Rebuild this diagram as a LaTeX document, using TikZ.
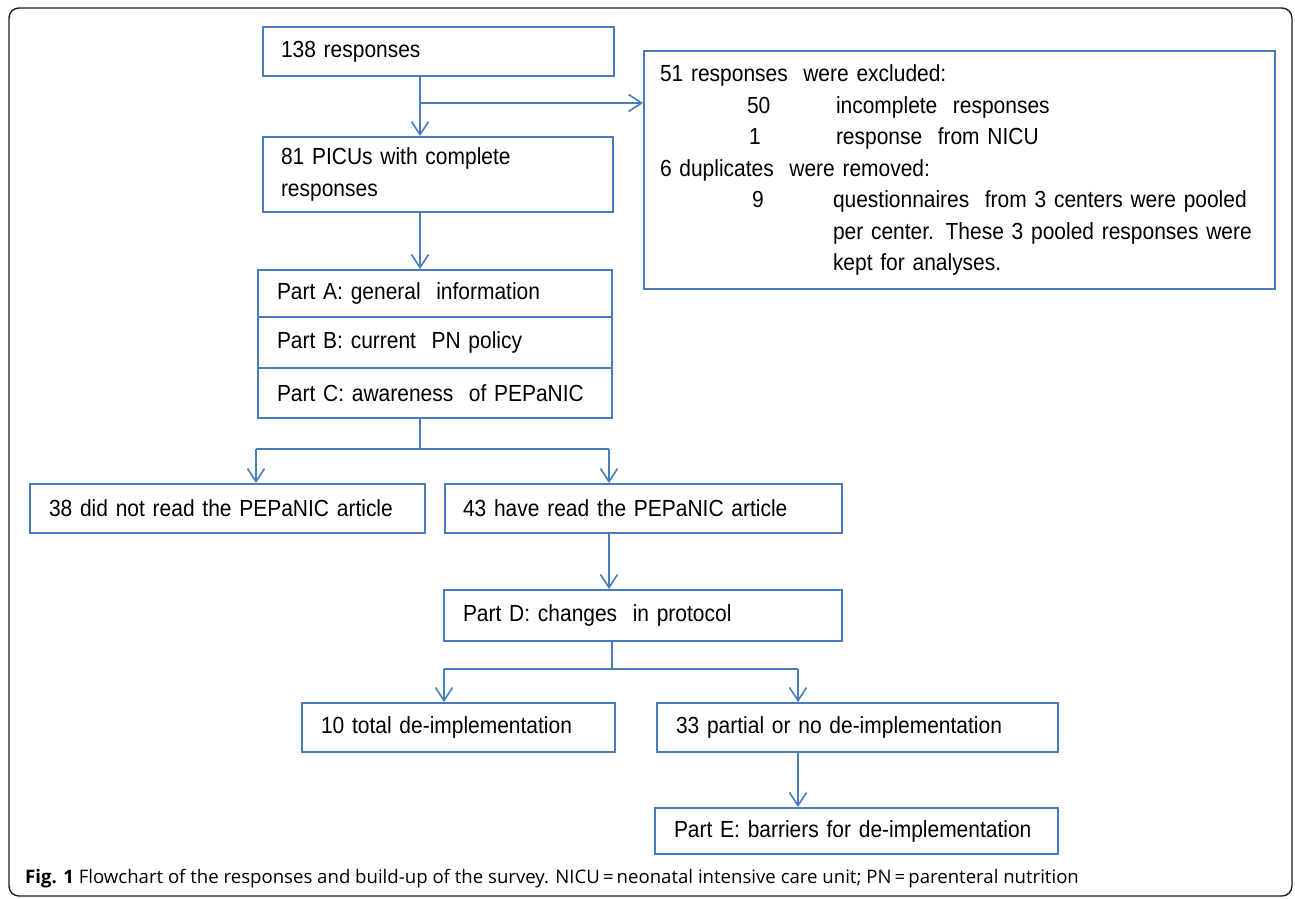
\documentclass[tikz,border=0pt]{standalone}
\usepackage{fontspec}
\setmainfont{Liberation Sans}
\newfontfamily\boxfont{Liberation Sans}[FakeStretch=0.9]
\newfontfamily\capfont{Open Sans}
\usetikzlibrary{arrows.meta}
\definecolor{boxblue}{RGB}{72,124,188}
\definecolor{frame}{RGB}{30,30,30}
\tikzset{
  bx/.style={draw=boxblue, line width=2pt, anchor=north west, inner ysep=0pt,
    align=left, font=\boxfont\fontsize{23.3}{31.5}\selectfont},
  conn/.style={draw=boxblue, line width=1.6pt},
  arr/.style={conn, -{Straight Barb[length=13pt,width=17pt]}},
}
\begin{document}
\begin{tikzpicture}[x=1pt,y=-1pt]
\useasboundingbox (0,0) rectangle (1295,898);
\draw[frame, line width=1.4pt, rounded corners=10pt] (9,8) rectangle (1292,896);

% boxes
\node[bx, inner xsep=18pt, text width=315pt, minimum height=49pt] (b138) at (262,26) {138 responses};
\node[bx, inner xsep=18pt, text width=314pt, minimum height=75pt] (b81) at (262,136) {81 PICUs with complete\\responses};
\node[bx, inner xsep=19pt, text width=316pt, minimum height=47pt] (pA) at (257,269) {Part A: general\ \ information};
\node[bx, inner xsep=19pt, text width=316pt, minimum height=51pt] (pB) at (257,316) {Part B: current\ \ PN policy};
\node[bx, inner xsep=19pt, text width=316pt, minimum height=50pt] (pC) at (257,367) {Part C: awareness\ \ of PEPaNIC};
\node[bx, inner xsep=16pt, text width=599pt, minimum height=238pt] (excl) at (643,50) {51 responses\ \ were excluded:\\
\hspace*{87pt}\makebox[89pt][l]{50}incomplete\ \ responses\\
\hspace*{89pt}\makebox[87pt][l]{1}response\ \ from NICU\\
6 duplicates\ \ were removed:\\
\hspace*{92pt}\makebox[81pt][l]{9}\makebox[406pt][s]{questionnaires\ \ from 3 centers were pooled}\\
\hspace*{173pt}\makebox[417pt][s]{per center. These 3 pooled responses were}\\
\hspace*{173pt}kept for analyses.};
\node[bx, inner xsep=19pt, text width=357pt, minimum height=49pt] (b38) at (29,483) {38 did not read the PEPaNIC article};
\node[bx, inner xsep=18pt, text width=361pt, minimum height=49pt] (b43) at (444,483) {43 have read the PEPaNIC article};
\node[bx, inner xsep=19pt, text width=360pt, minimum height=51pt] (pD) at (443,589) {Part D: changes\ \ in protocol};
\node[bx, inner xsep=19pt, text width=275pt, minimum height=49pt] (b10) at (301,702) {10 total de-implementation};
\node[bx, inner xsep=19pt, text width=363pt, minimum height=49pt] (b33) at (656,702) {33 partial or no de-implementation};
\node[bx, inner xsep=19pt, text width=365pt, minimum height=46pt] (pE) at (654,807) {Part E: barriers for de-implementation};

% connector coordinates
\coordinate (sp) at (420,0);
\coordinate (j1) at (420,103);
\coordinate (c38) at (256,449);
\coordinate (c43) at (609,449);
\coordinate (j2) at (420,449);
\coordinate (d0) at (612,669);
\coordinate (c10) at (444,669);
\coordinate (c33) at (798,669);

\draw[arr] (b138.south -| sp) -- (b81.north -| sp);
\draw[arr] (j1) -- (j1 -| excl.west);
\draw[arr] (b81.south -| sp) -- (pA.north -| sp);
\draw[conn] (pC.south -| sp) -- (j2);
\draw[conn] (c38) -- (c43);
\draw[arr] (c38) -- (c38 |- b38.north);
\draw[arr] (c43) -- (c43 |- b43.north);
\draw[arr] (b43.south -| c43) -- (pD.north -| c43);
\draw[conn] (pD.south -| d0) -- (d0);
\draw[conn] (c10) -- (c33);
\draw[arr] (c10) -- (c10 |- b10.north);
\draw[arr] (c33) -- (c33 |- b33.north);
\draw[arr] (b33.south -| c33) -- (pE.north -| c33);

% caption
\node[anchor=west, inner sep=0pt, font=\capfont\fontsize{18.6}{20}\selectfont] (cap) at (25,879)
  {\textbf{Fig. 1} Flowchart of the responses and build-up of the survey. NICU\,=\,neonatal intensive care unit; PN\,=\,parenteral nutrition};
\end{tikzpicture}
\end{document}
